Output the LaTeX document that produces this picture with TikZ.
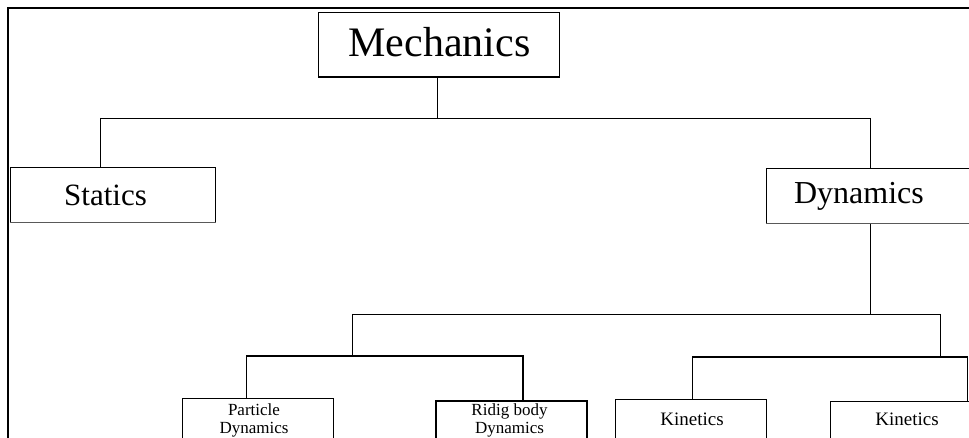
\documentclass[tikz,border=0pt]{standalone}
\usepackage{fontspec}
\setmainfont{Liberation Serif}
\begin{document}
\begin{tikzpicture}[x=1pt,y=-1pt,
  box/.style={draw, line width=0.8pt, inner sep=0pt, anchor=north west, fill=white},
  lbl/.style={inner sep=0pt, align=center},
  conn/.style={line width=0.8pt},
  thickconn/.style={line width=1.6pt}]
\useasboundingbox (0,0) rectangle (969,438);
\begin{scope}
\clip (0,0) rectangle (969,438);
% frame
\coordinate (fbl) at (8,460);
\coordinate (ftl) at (8,8);
\coordinate (ftr) at (990,8);
\draw[line width=1.2pt] (fbl) -- (ftl) -- (ftr);

% boxes
\node[box, minimum width=241pt, minimum height=64pt] (mech) at (318,12) {};
\node[box, minimum width=205pt, minimum height=55pt] (stat) at (10,167) {};
\node[box, minimum width=215pt, minimum height=55pt] (dyn) at (766,168) {};
\node[box, minimum width=151pt, minimum height=70pt] (pd) at (182,398) {};
\node[box, line width=1.8pt, minimum width=151pt, minimum height=70pt] (rd) at (435,400) {};
\node[box, line width=1.3pt, minimum width=151pt, minimum height=70pt] (k1) at (615,399) {};
\node[box, line width=1.3pt, minimum width=160pt, minimum height=70pt] (k2) at (830,401) {};

% thicker bottom edges
\draw[line width=1.6pt] (mech.south west) -- (mech.south east);
\draw[line width=1.4pt, gray!70!black] (stat.south west) -- (stat.south east);
\draw[line width=1.4pt, gray!70!black] (dyn.south west) -- (dyn.south east);

% labels
\node[lbl, anchor=base, font=\fontsize{42}{48}\selectfont] (mecht) at (439.5,57) {Mechanics};
\node[lbl, anchor=base, font=\fontsize{31}{36}\selectfont] (statt) at (105.5,206) {Statics};
\node[lbl, anchor=base, font=\fontsize{32}{36}\selectfont] (dynt) at (859,204) {Dynamics};
\node[lbl, anchor=center, font=\fontsize{17}{18}\selectfont] (pdt) at (254,420) {Particle\\Dynamics};
\node[lbl, anchor=center, font=\fontsize{17}{18}\selectfont] (rdt) at (509.5,420) {Ridig body\\Dynamics};
\node[lbl, anchor=base, font=\fontsize{19}{22}\selectfont] (k1t) at (692,425) {Kinetics};
\node[lbl, anchor=base, font=\fontsize{19}{22}\selectfont] (k2t) at (907,425) {Kinetics};

% connectors
\coordinate (j1) at (437,118);
\coordinate (dx) at (870,118);
\coordinate (sx) at (100,118);
\coordinate (j2) at (870,314);
\coordinate (jl) at (352,314);
\coordinate (jr) at (940,314);
\coordinate (jll) at (352,356);
\coordinate (jrr) at (940,357);

\draw[conn] (mech.south -| j1) -- (j1);
\draw[conn] (sx) -- (dx);
\draw[conn] (sx) -- (stat.north -| sx);
\draw[conn] (dx) -- (dyn.north -| dx);
\draw[conn] (dyn.south -| dx) -- (j2);
\draw[conn] (jl) -- (jr);
\draw[conn] (jl) -- (jll);
\draw[conn] (jr) -- (jrr);
\draw[thickconn] (jll) -| ([xshift=-11.5pt]pd.north);
\draw[thickconn] (jll) -| ([xshift=11.5pt]rd.north);
\draw[thickconn] (jrr) -| ([xshift=1.5pt]k1.north);
\draw[thickconn] (jrr) -| ([xshift=57pt]k2.north);
\end{scope}
\end{tikzpicture}
\end{document}
